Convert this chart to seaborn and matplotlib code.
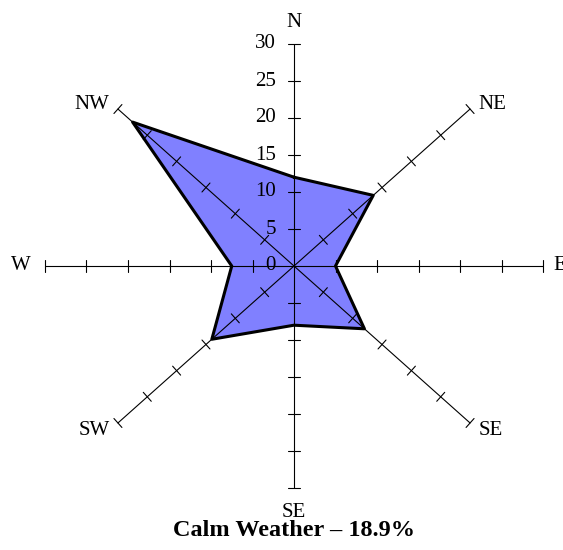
import numpy as np
import pandas as pd
import matplotlib
matplotlib.use("Agg")
import matplotlib.pyplot as plt
import seaborn as sns

# Wind direction frequencies (%)
directions = ["N", "NE", "E", "SE", "S", "SW", "W", "NW"]
axis_labels = ["N", "NE", "E", "SE", "SE", "SW", "W", "NW"]
frequency = [12, 13.5, 5, 12, 8, 14, 7.5, 27.5]
radial_ticks = [0, 5, 10, 15, 20, 25, 30]
title = "Calm Weather \u2013 18.9%"

sns.set_theme(style="white")
plt.rcParams["font.family"] = ["Liberation Serif", "DejaVu Serif"]
plt.rcParams["text.color"] = "black"

W, H, DPI = 563, 550, 100
cx, cy = 294, 266            # chart centre in pixels (from top-left)
px_x, px_y = 8.3, 7.4        # pixels per unit along x and y
rmax = 30

fig = plt.figure(figsize=(W / DPI, H / DPI), dpi=DPI)
ax = fig.add_axes([0, 0, 1, 1])
ax.set_xlim(-cx / px_x, (W - cx) / px_x)
ax.set_ylim(-(H - cy) / px_y, cy / px_y)
ax.axis("off")

angles = np.deg2rad(np.arange(0, 360, 45))
df = pd.DataFrame({"direction": directions, "value": frequency, "theta": angles})
df["x"] = df["value"] * np.sin(df["theta"])
df["y"] = df["value"] * np.cos(df["theta"])

# filled area
ax.fill(df["x"], df["y"], color="#8080FF", zorder=1, lw=0)

# spokes and tick marks
for th in angles:
    sx, sy = np.sin(th), np.cos(th)
    ax.plot([0, rmax * sx], [0, rmax * sy], color="black", lw=0.8, zorder=2)
    ux, uy = sx * px_x, sy * px_y
    n = np.hypot(ux, uy)
    ux, uy = ux / n, uy / n
    half = 6
    ox, oy = -uy * half / px_x, ux * half / px_y
    for r in radial_ticks[1:]:
        x0, y0 = r * sx, r * sy
        ax.plot([x0 - ox, x0 + ox], [y0 - oy, y0 + oy], color="black", lw=0.8, zorder=2)

# outline
closed = pd.concat([df, df.iloc[[0]]], ignore_index=True)
sns.lineplot(data=closed, x="x", y="y", sort=False, estimator=None,
             color="black", lw=2.2, ax=ax, zorder=3)
ax.set_xlabel("")
ax.set_ylabel("")

# radial scale labels on the north spoke
for r in radial_ticks:
    ax.text(-18 / px_x, r, str(r), ha="right", va="center", fontsize=15, zorder=4)

# direction labels
fs = 15
ax.text(0, 32.9, axis_labels[0], ha="center", va="center", fontsize=fs)
ax.text(-31.7, 0, axis_labels[6], ha="right", va="center", fontsize=fs)
ax.text(31.2, 0, axis_labels[2], ha="left", va="center", fontsize=fs)
d = rmax / np.sqrt(2)
ax.text(d + 1.0, d + 0.6, axis_labels[1], ha="left", va="center", fontsize=fs)
ax.text(-d - 1.0, d + 0.6, axis_labels[7], ha="right", va="center", fontsize=fs)
ax.text(d + 1.0, -d - 1.0, axis_labels[3], ha="left", va="center", fontsize=fs)
ax.text(-d - 1.0, -d - 1.0, axis_labels[5], ha="right", va="center", fontsize=fs)
ax.text(0, -33.3, axis_labels[4], ha="center", va="center", fontsize=fs)

ax.text(0, -35.8, title, ha="center", va="center", fontsize=17.5, fontweight="bold")

fig.savefig("out.png", dpi=DPI)
